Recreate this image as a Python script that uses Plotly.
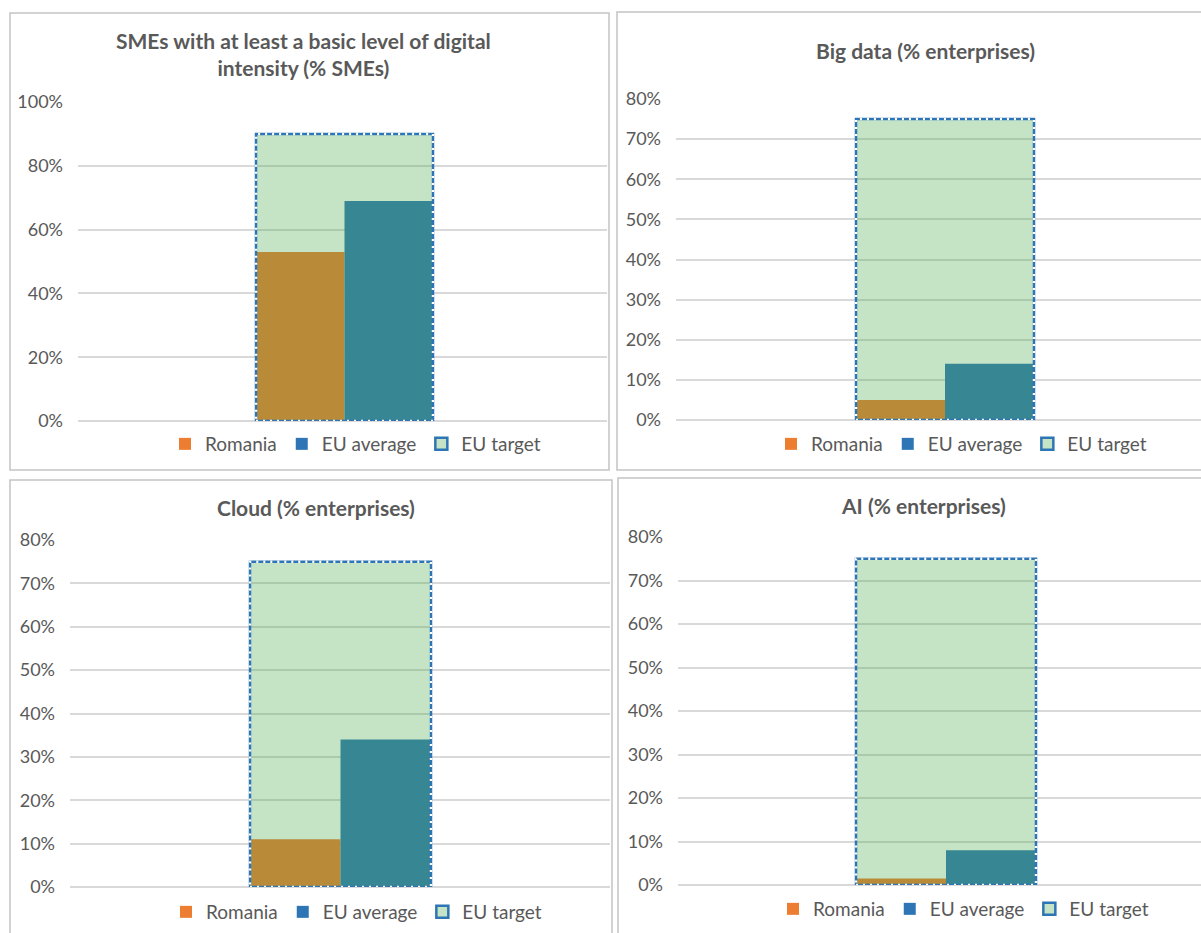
import plotly.graph_objects as go

# ---------------- data ----------------
panel_titles = [
    "SMEs with at least a basic level of digital<br>intensity (% SMEs)",
    "Big data (% enterprises)",
    "Cloud (% enterprises)",
    "AI (% enterprises)",
]
series_names = ["Romania", "EU average", "EU target"]
romania = [0.53, 0.05, 0.11, 0.015]
eu_average = [0.69, 0.14, 0.34, 0.08]
eu_target = [0.90, 0.75, 0.75, 0.75]
y_max = [1.0, 0.8, 0.8, 0.8]
y_step = [0.2, 0.1, 0.1, 0.1]

# ---------------- style ----------------
W, H = 1201, 933
FONT = "Lato"
TXT = "#595959"
GRID = "#D9D9D9"
C_RO = "#ED7D31"
C_EU = "#2E75B6"
C_TGT = "rgba(74,171,74,0.32)"

# panel geometry in pixels: plot-left, plot-right, y(0), y(max), bar-left, bar-right
geo = [
    dict(l=78, r=607, y0=421, y1=102, bl=256, br=433),
    dict(l=676, r=1201, y0=420, y1=99, bl=856, br=1034),
    dict(l=70, r=610, y0=887, y1=540, bl=250, br=431),
    dict(l=678, r=1201, y0=885, y1=537, bl=856, br=1036),
]
title_pos = [(303, 54), (925, 50), (316, 507), (923, 505)]
legend_pos = [(165, 444), (771, 444), (166, 912), (773, 909)]
borders = [(10, 13, 609, 470), (617, 12, 1210, 470), (10, 480, 612, 945), (618, 478, 1210, 945)]

BAR_W = 0.5      # width of each series bar
TGT_W = 1.0      # width of target bar
X0 = 0.0         # category position

def px(x):
    return x / W

def py(y):
    return 1 - y / H

fig = go.Figure()
layout = dict(
    width=W, height=H, margin=dict(l=0, r=0, t=0, b=0, autoexpand=False),
    paper_bgcolor="white", plot_bgcolor="white",
    barmode="overlay", font=dict(family=FONT, color=TXT, size=18),
    annotations=[], shapes=[],
)

for i in range(4):
    g = geo[i]
    s = (g["br"] - g["bl"]) / TGT_W
    xr = [X0 - TGT_W / 2 - (g["bl"] - g["l"]) / s, X0 + TGT_W / 2 + (g["r"] - g["br"]) / s]
    xa = "x" if i == 0 else f"x{i+1}"
    ya = "y" if i == 0 else f"y{i+1}"
    lg = "legend" if i == 0 else f"legend{i+1}"
    fig.add_trace(go.Bar(x=[X0 - BAR_W / 2], y=[romania[i]], width=[BAR_W], name=series_names[0],
                         marker=dict(color=C_RO, line=dict(width=0)), xaxis=xa, yaxis=ya, legend=lg,
                         hoverinfo="y"))
    fig.add_trace(go.Bar(x=[X0 + BAR_W / 2], y=[eu_average[i]], width=[BAR_W], name=series_names[1],
                         marker=dict(color=C_EU, line=dict(width=0)), xaxis=xa, yaxis=ya, legend=lg,
                         hoverinfo="y"))
    fig.add_trace(go.Bar(x=[X0], y=[eu_target[i]], width=[TGT_W], name=series_names[2],
                         marker=dict(color=C_TGT, line=dict(color=C_EU, width=2.5)), xaxis=xa, yaxis=ya,
                         legend=lg, hoverinfo="y"))
    # dashed look of target outline
    layout["shapes"].append(dict(type="rect", xref=xa, yref=ya, x0=X0 - TGT_W / 2, x1=X0 + TGT_W / 2,
                                 y0=0, y1=eu_target[i], line=dict(color="white", width=2.5, dash="2px,5px"),
                                 layer="above"))
    axn = "xaxis" if i == 0 else f"xaxis{i+1}"
    ayn = "yaxis" if i == 0 else f"yaxis{i+1}"
    layout[axn] = dict(domain=[px(g["l"]), px(g["r"])], range=xr, showgrid=False, zeroline=False,
                       showticklabels=False, showline=False, anchor=ya, fixedrange=True)
    layout[ayn] = dict(domain=[py(g["y0"]), py(g["y1"])], range=[0, y_max[i]], dtick=y_step[i],
                       tickformat=".0%", showgrid=True, gridcolor=GRID, gridwidth=2,
                       zeroline=True, zerolinecolor=GRID, zerolinewidth=2, showline=False,
                       ticks="", ticklabelstandoff=14, anchor=xa,
                       tickfont=dict(family=FONT, size=18, color=TXT), fixedrange=True)
    tx, ty = title_pos[i]
    layout["annotations"].append(dict(text=f"<b>{panel_titles[i]}</b>", xref="paper", yref="paper",
                                      x=px(tx), y=py(ty), xanchor="center", yanchor="middle",
                                      showarrow=False, font=dict(family=FONT, size=21, color=TXT)))
    lx, ly = legend_pos[i]
    layout[lg] = dict(orientation="h", x=px(lx), y=py(ly), xanchor="left", yanchor="middle",
                      font=dict(family=FONT, size=19, color=TXT), bgcolor="rgba(0,0,0,0)",
                      borderwidth=0, traceorder="normal", itemclick=False, itemdoubleclick=False)
    bx0, by0, bx1, by1 = borders[i]
    layout["shapes"].append(dict(type="rect", xref="paper", yref="paper", x0=px(bx0), x1=px(bx1),
                                 y0=py(by0), y1=py(by1), line=dict(color="#C4C4C4", width=1.5),
                                 layer="below"))

fig.update_layout(**layout)
fig.write_html(
    "out.html",
    config={"displayModeBar": False},
    post_script=(
        "document.body.style.margin='0px';document.body.style.padding='0px';"
        "document.documentElement.style.overflow='hidden';"
        "var gd=document.getElementById('{plot_id}');"
        "gd.style.position='fixed';gd.style.top='0px';gd.style.left='0px';"
    ),
)
